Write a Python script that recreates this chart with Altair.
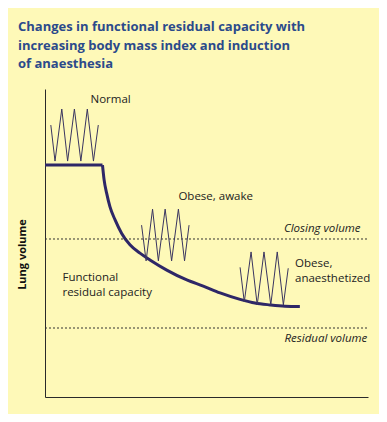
import altair as alt
import pandas as pd

# ---- data (schematic units: x = progression, y = lung volume, 0-100) ----
frc_flat_x = [0.0, 17.8]
frc_flat_y = [75.3, 75.3]
frc_curve_x = [17.8, 18.3, 19.1, 20.1, 21.7, 23.7, 26.3, 29.4, 32.5, 37.7, 43.9, 49.0,
               54.2, 60.4, 65.0, 69.7, 74.3, 78.9]
frc_curve_y = [75.3, 70.5, 66.1, 61.8, 57.5, 53.2, 49.4, 46.7, 44.5, 41.2, 38.0, 36.0,
               33.8, 31.7, 30.5, 29.9, 29.5, 29.4]

normal_x = [1.8, 3.1, 5.2, 7.0, 9.1, 11.1, 13.1, 15.0, 16.5]
normal_y = [88.3, 76.6, 93.5, 76.6, 93.5, 76.6, 93.5, 76.6, 88.3]
awake_x = [29.9, 31.3, 33.3, 35.1, 37.2, 39.2, 41.3, 43.2, 44.6]
awake_y = [55.8, 44.2, 61.0, 44.2, 61.0, 44.2, 61.0, 44.2, 55.8]
anaes_x = [60.4, 61.7, 63.8, 65.7, 67.8, 69.9, 71.9, 73.8, 75.3]
anaes_y = [42.1, 30.9, 47.1, 29.9, 47.1, 29.9, 47.1, 29.9, 41.8]

ref_names = ["Closing volume", "Residual volume"]
ref_y = [51.3, 22.4]
ref_x0 = [0.0, 0.0]
ref_x1 = [99.7, 99.7]

label_text = ["Normal", "Obese, awake", "Obese,", "anaesthetized", "Functional", "residual capacity"]
label_x = [14.1, 41.3, 77.4, 77.4, 5.4, 5.4]
label_y = [96.4, 65.0, 43.2, 38.2, 38.7, 33.7]

italic_text = ["Closing volume", "Residual volume"]
italic_x = [97.7, 99.8]
italic_y = [54.4, 18.7]

title_lines = [
    "Changes in functional residual capacity with",
    "increasing body mass index and induction",
    "of anaesthesia",
]

# ---- frames ----
frc = pd.DataFrame(
    {"seg": ["flat"] * len(frc_flat_x) + ["curve"] * len(frc_curve_x),
     "x": frc_flat_x + frc_curve_x,
     "y": frc_flat_y + frc_curve_y,
     "o": list(range(len(frc_flat_x))) + list(range(len(frc_curve_x)))}
)
rows = []
for name, xs_, ys_ in [("Normal", normal_x, normal_y), ("Obese, awake", awake_x, awake_y),
                       ("Obese, anaesthetized", anaes_x, anaes_y)]:
    for i, (a, b) in enumerate(zip(xs_, ys_)):
        rows.append({"trace": name, "o": i, "x": a, "y": b})
breaths = pd.DataFrame(rows)
refs = pd.DataFrame({"name": ref_names, "y": ref_y, "x0": ref_x0, "x1": ref_x1})
labels = pd.DataFrame({"t": label_text, "x": label_x, "y": label_y})
italics = pd.DataFrame({"t": italic_text, "x": italic_x, "y": italic_y})

xs = alt.Scale(domain=[0, 100], nice=False, zero=False)
ys = alt.Scale(domain=[0, 100], nice=False, zero=False)

X = alt.X("x:Q", scale=xs, axis=alt.Axis(labels=False, ticks=False, grid=False, title=None,
                                          domainColor="#2a2a2a", domainWidth=1))
Y = alt.Y("y:Q", scale=ys, axis=alt.Axis(labels=False, ticks=False, grid=False, title="Lung volume",
                                          domainColor="#2a2a2a", domainWidth=1,
                                          titleFont="Open Sans", titleFontSize=11,
                                          titleFontWeight="bold", titleColor="#111111",
                                          titleAngle=-90, titleX=-23, titleY=165,
                                          titleAlign="center", titleBaseline="middle"))

ref_layer = alt.Chart(refs).mark_rule(color="#333333", strokeWidth=1, strokeDash=[2, 2]).encode(
    x=X, x2="x1:Q", y="y:Q").transform_calculate(x="datum.x0")

breath_layer = alt.Chart(breaths).mark_line(color="#3a3560", strokeWidth=1).encode(
    x="x:Q", y="y:Q", detail="trace:N", order="o:Q")

frc_layer = alt.Chart(frc).mark_line(color="#2e2767", strokeWidth=3, interpolate="monotone").encode(
    x="x:Q", y=Y, detail="seg:N", order="o:Q")

label_layer = alt.Chart(labels).mark_text(align="left", baseline="middle", font="Open Sans",
                                          fontSize=11.5, color="#222222").encode(
    x="x:Q", y="y:Q", text="t:N")

italic_layer = alt.Chart(italics).mark_text(align="right", baseline="middle", font="Open Sans",
                                            fontSize=11.5, fontStyle="italic", color="#222222").encode(
    x="x:Q", y="y:Q", text="t:N")

chart = alt.layer(frc_layer, ref_layer, breath_layer, label_layer, italic_layer).properties(
    width=323, height=308,
    autosize=alt.AutoSizeParams(type="none"),
    padding={"left": 37, "top": 81, "right": 11, "bottom": 17},
    title=alt.Title(title_lines, anchor="start", frame="group", dx=-27, font="Open Sans",
                    fontSize=13, fontWeight="bold", color="#2b4a8b", lineHeight=18.5, offset=18),
).configure(background="#fef9b8").configure_view(stroke=None)

chart.save("out.html", embed_options={"renderer": "svg", "actions": False})
